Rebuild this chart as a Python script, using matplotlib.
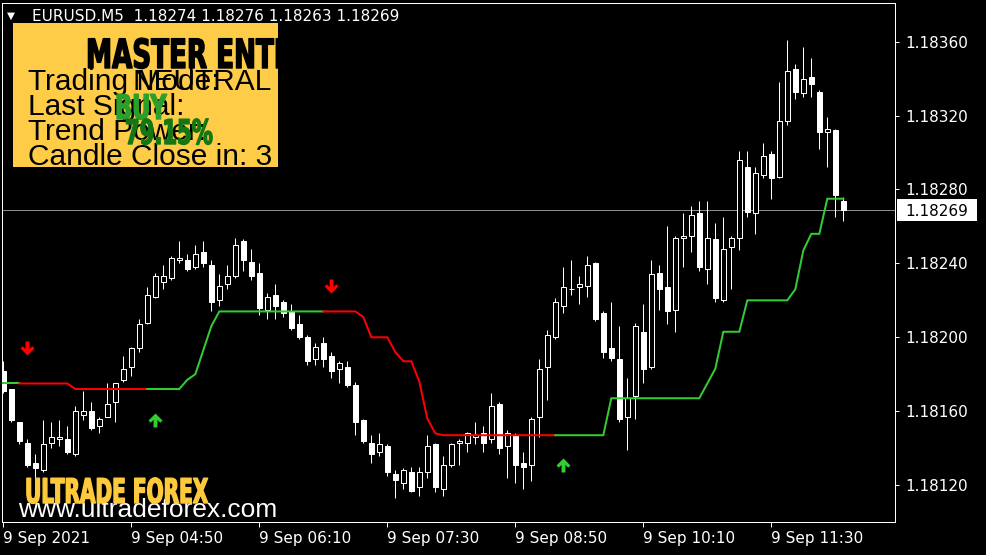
import matplotlib
matplotlib.use("Agg")
import matplotlib.pyplot as plt
import matplotlib.patheffects as pe
from matplotlib.patches import Rectangle
from matplotlib.path import Path
from matplotlib.transforms import Affine2D, blended_transform_factory

# ---------------- data ----------------
symbol = "EURUSD.M5"

opens = [1.18182, 1.18172, 1.18154, 1.18143, 1.18132, 1.18128, 1.18143, 1.18145, 1.18145, 1.18137,
         1.18158, 1.18160, 1.18152, 1.18157, 1.18165, 1.18177, 1.18184, 1.18194, 1.18208, 1.18222,
         1.18230, 1.18232, 1.18242, 1.18242, 1.18238, 1.18246, 1.18239, 1.18220, 1.18229, 1.18233,
         1.18252, 1.18241, 1.18235, 1.18215, 1.18223, 1.18219, 1.18214, 1.18207, 1.18200, 1.18188,
         1.18197, 1.18190, 1.18183, 1.18184, 1.18174, 1.18155, 1.18143, 1.18138, 1.18141, 1.18126,
         1.18121, 1.18127, 1.18119, 1.18127, 1.18142, 1.18118, 1.18131, 1.18143, 1.18143, 1.18146,
         1.18148, 1.18145, 1.18164, 1.18141, 1.18147, 1.18132, 1.18131, 1.18157, 1.18184, 1.18200,
         1.18217, 1.18226, 1.18227, 1.18228, 1.18240, 1.18213, 1.18194, 1.18188, 1.18157, 1.18168,
         1.18203, 1.18184, 1.18235, 1.18227, 1.18215, 1.18254, 1.18255, 1.18267, 1.18237, 1.18253,
         1.18220, 1.18249, 1.18254, 1.18292, 1.18267, 1.18288, 1.18299, 1.18287, 1.18317, 1.18345,
         1.18332, 1.18341, 1.18333, 1.18311, 1.18312, 1.18274]

highs = [1.18187, 1.18172, 1.18154, 1.18145, 1.18137, 1.18155, 1.18154, 1.18155, 1.18152, 1.18163,
         1.18171, 1.18165, 1.18157, 1.18175, 1.18175, 1.18190, 1.18195, 1.18210, 1.18227, 1.18235,
         1.18239, 1.18244, 1.18252, 1.18245, 1.18250, 1.18252, 1.18242, 1.18234, 1.18239, 1.18254,
         1.18253, 1.18248, 1.18240, 1.18224, 1.18229, 1.18220, 1.18218, 1.18212, 1.18201, 1.18197,
         1.18200, 1.18192, 1.18187, 1.18187, 1.18176, 1.18156, 1.18147, 1.18148, 1.18142, 1.18128,
         1.18129, 1.18130, 1.18130, 1.18147, 1.18143, 1.18136, 1.18143, 1.18145, 1.18149, 1.18154,
         1.18152, 1.18170, 1.18165, 1.18150, 1.18148, 1.18138, 1.18157, 1.18188, 1.18204, 1.18221,
         1.18238, 1.18242, 1.18233, 1.18244, 1.18241, 1.18214, 1.18219, 1.18206, 1.18178, 1.18208,
         1.18218, 1.18242, 1.18239, 1.18260, 1.18255, 1.18267, 1.18271, 1.18274, 1.18274, 1.18262,
         1.18265, 1.18255, 1.18301, 1.18301, 1.18292, 1.18305, 1.18301, 1.18338, 1.18361, 1.18348,
         1.18357, 1.18351, 1.18334, 1.18319, 1.18313, 1.18276]

lows = [1.18170, 1.18154, 1.18142, 1.18130, 1.18124, 1.18127, 1.18140, 1.18141, 1.18137, 1.18136,
        1.18155, 1.18150, 1.18148, 1.18157, 1.18154, 1.18176, 1.18179, 1.18192, 1.18207, 1.18221,
        1.18226, 1.18231, 1.18240, 1.18236, 1.18237, 1.18238, 1.18214, 1.18217, 1.18226, 1.18232,
        1.18236, 1.18231, 1.18212, 1.18210, 1.18210, 1.18211, 1.18204, 1.18199, 1.18185, 1.18185,
        1.18184, 1.18178, 1.18175, 1.18173, 1.18147, 1.18143, 1.18132, 1.18136, 1.18125, 1.18113,
        1.18118, 1.18116, 1.18114, 1.18124, 1.18116, 1.18114, 1.18130, 1.18131, 1.18138, 1.18142,
        1.18138, 1.18143, 1.18137, 1.18124, 1.18121, 1.18118, 1.18122, 1.18146, 1.18166, 1.18199,
        1.18213, 1.18223, 1.18218, 1.18222, 1.18209, 1.18189, 1.18187, 1.18154, 1.18139, 1.18156,
        1.18175, 1.18183, 1.18215, 1.18207, 1.18203, 1.18238, 1.18246, 1.18236, 1.18229, 1.18219,
        1.18219, 1.18226, 1.18247, 1.18265, 1.18256, 1.18286, 1.18275, 1.18286, 1.18315, 1.18329,
        1.18330, 1.18330, 1.18302, 1.18292, 1.18265, 1.18263]

closes = [1.18171, 1.18155, 1.18144, 1.18131, 1.18129, 1.18142, 1.18146, 1.18146, 1.18138, 1.18160,
          1.18160, 1.18151, 1.18156, 1.18164, 1.18175, 1.18183, 1.18194, 1.18207, 1.18223, 1.18233,
          1.18233, 1.18243, 1.18243, 1.18237, 1.18245, 1.18240, 1.18219, 1.18228, 1.18233, 1.18250,
          1.18242, 1.18233, 1.18216, 1.18222, 1.18217, 1.18213, 1.18205, 1.18200, 1.18187, 1.18195,
          1.18188, 1.18182, 1.18186, 1.18174, 1.18154, 1.18144, 1.18137, 1.18142, 1.18127, 1.18123,
          1.18128, 1.18117, 1.18127, 1.18141, 1.18119, 1.18131, 1.18142, 1.18144, 1.18148, 1.18147,
          1.18143, 1.18163, 1.18140, 1.18148, 1.18131, 1.18130, 1.18156, 1.18183, 1.18201, 1.18219,
          1.18227, 1.18226, 1.18229, 1.18239, 1.18210, 1.18192, 1.18189, 1.18156, 1.18167, 1.18206,
          1.18183, 1.18234, 1.18226, 1.18214, 1.18254, 1.18255, 1.18266, 1.18238, 1.18254, 1.18221,
          1.18248, 1.18254, 1.18296, 1.18268, 1.18289, 1.18298, 1.18286, 1.18317, 1.18344, 1.18333,
          1.18340, 1.18337, 1.18311, 1.18313, 1.18277, 1.18269]

trend_line = [1.18175, 1.18175, 1.18175, 1.18175, 1.18175, 1.18175, 1.18175, 1.18175, 1.18175, 1.18172,
              1.18172, 1.18172, 1.18172, 1.18172, 1.18172, 1.18172, 1.18172, 1.18172, 1.18172, 1.18172,
              1.18172, 1.18172, 1.18172, 1.18177, 1.18180, 1.18193, 1.18206, 1.18214, 1.18214, 1.18214,
              1.18214, 1.18214, 1.18214, 1.18214, 1.18214, 1.18214, 1.18214, 1.18214, 1.18214, 1.18214,
              1.18214, 1.18214, 1.18214, 1.18214, 1.18214, 1.18211, 1.18200, 1.18200, 1.18200, 1.18192,
              1.18187, 1.18187, 1.18176, 1.18156, 1.18148, 1.18147, 1.18147, 1.18147, 1.18147, 1.18147,
              1.18147, 1.18147, 1.18147, 1.18147, 1.18147, 1.18147, 1.18147, 1.18147, 1.18147, 1.18147,
              1.18147, 1.18147, 1.18147, 1.18147, 1.18147, 1.18147, 1.18167, 1.18167, 1.18167, 1.18167,
              1.18167, 1.18167, 1.18167, 1.18167, 1.18167, 1.18167, 1.18167, 1.18167, 1.18175, 1.18183,
              1.18203, 1.18203, 1.18203, 1.18220, 1.18220, 1.18220, 1.18220, 1.18220, 1.18220, 1.18226,
              1.18247, 1.18256, 1.18256, 1.18275, 1.18275, 1.18275]

trend_switch_bars = [0, 2, 18, 40, 69]
trend_switch_up = [True, False, True, False, True]

sell_bars = [3, 41]
sell_prices = [1.18194, 1.18228]
buy_bars = [19, 70]
buy_prices = [1.18155, 1.18131]

time_label_bars = [0, 16, 32, 48, 64, 80, 96]
time_labels = ["9 Sep 2021", "9 Sep 04:50", "9 Sep 06:10", "9 Sep 07:30",
               "9 Sep 08:50", "9 Sep 10:10", "9 Sep 11:30"]
price_ticks = [1.18120, 1.18160, 1.18200, 1.18240, 1.18280, 1.18320, 1.18360]

panel_title = "MASTER ENTRY"
panel_rows = ["Trading Mode:", "Last Signal:", "Trend Power:", "Candle Close in: 3"]
trading_mode = "NEUTRAL"
last_signal = "BUY"
trend_power = "79.15%"
brand = "ULTRADE FOREX"
website = "www.ultradeforex.com"

# ---------------- styling helpers ----------------
W, H, DPI = 987, 555, 100
PX = 72.0 / DPI
GREEN = "#32CD32"
RED = "#FF0000"
YELLOW = "#FFCC47"


def fx(px):
    return px / W


def fy(py):
    return 1 - py / H


class SqueezeStroke(pe.Stroke):
    """Stroke that also compresses glyphs horizontally (condensed look)."""
    def __init__(self, sx, **kw):
        super().__init__(**kw)
        self.sx = sx

    def draw_path(self, renderer, gc, tpath, affine, rgbFace=None):
        super().draw_path(renderer, gc, tpath, Affine2D().scale(self.sx, 1.0) + affine, rgbFace)


fig = plt.figure(figsize=(W / DPI, H / DPI), dpi=DPI, facecolor="black")
ax = fig.add_axes([fx(2.5), fy(521.5), fx(895) - fx(2.5), fy(2.5) - fy(521.5)])
ax.set_facecolor("black")
n = len(opens)
xs = list(range(n))
ax.set_xlim(-0.1, 111.46)
ax.set_ylim(1.181003, 1.183812)

# candles
ax.vlines(xs, lows, highs, color="white", lw=PX, zorder=2)
bottoms = [min(o, c) for o, c in zip(opens, closes)]
heights = [abs(c - o) for o, c in zip(opens, closes)]
faces = ["white" if c < o else "black" for o, c in zip(opens, closes)]
ax.bar(xs, heights, bottom=bottoms, width=0.56, color=faces, edgecolor="white",
       linewidth=PX, zorder=3)

# trend line
ends = trend_switch_bars[1:] + [n - 1]
for s, e, up in zip(trend_switch_bars, ends, trend_switch_up):
    ax.plot(xs[s:e + 1], trend_line[s:e + 1], color=GREEN if up else RED,
            lw=2 * PX, zorder=4, solid_joinstyle="miter")

# arrows
down_verts = [(-0.14, 0.5), (0.14, 0.5), (0.14, -0.04), (0.34, 0.16), (0.5, 0.0),
              (0.0, -0.5), (-0.5, 0.0), (-0.34, 0.16), (-0.14, -0.04), (-0.14, 0.5)]
down_arrow = Path(down_verts, closed=True)
up_arrow = Path([(x, -y) for x, y in down_verts], closed=True)
ax.plot(sell_bars, sell_prices, ls="none", marker=down_arrow, ms=14 * PX,
        mfc=RED, mec=RED, mew=0, zorder=5)
ax.plot(buy_bars, buy_prices, ls="none", marker=up_arrow, ms=14 * PX,
        mfc=GREEN, mec=GREEN, mew=0, zorder=5)

# current price line + label
last = closes[-1]
ax.axhline(last, color="#8C8C94", lw=PX, zorder=1)
blend = blended_transform_factory(fig.transFigure, ax.transData)
y0, y1 = ax.get_ylim()
ax_h_px = (521.5 - 2.5)
half = 11.2 * (y1 - y0) / ax_h_px
ax.add_patch(Rectangle((fx(897), last - half), fx(80), 2 * half, transform=blend,
                       facecolor="white", edgecolor="none", clip_on=False, zorder=6))
ax.text(fx(905), last, f"{last:.5f}", transform=blend, color="black", fontsize=11,
        family="DejaVu Sans", va="center_baseline", ha="left", clip_on=False, zorder=7)

# axes styling
ax.yaxis.tick_right()
ax.set_yticks(price_ticks)
ax.set_yticklabels([f"{p:.5f}" for p in price_ticks])
ax.set_xticks(time_label_bars)
ax.set_xticklabels(time_labels, ha="left")
ax.tick_params(axis="y", colors="white", length=4 * PX, width=PX, pad=6 * PX,
               labelsize=11, direction="out")
ax.tick_params(axis="x", colors="white", length=5 * PX, width=PX, pad=4 * PX,
               labelsize=11, direction="out")
for sp in ax.spines.values():
    sp.set_color("white")
    sp.set_linewidth(PX)

# header
fig.text(fx(7), fy(19), "\u25BC", color="white", fontsize=7.5, va="baseline", ha="left")
fig.text(fx(32), fy(21),
         f"{symbol}  {opens[-1]:.5f} {highs[-1]:.5f} {lows[-1]:.5f} {closes[-1]:.5f}",
         color="white", fontsize=11, family="DejaVu Sans", va="baseline", ha="left")

# info panel
box = Rectangle((fx(13.3), fy(167)), fx(278) - fx(13.3), fy(22.7) - fy(167),
                transform=fig.transFigure, facecolor=YELLOW, edgecolor="none", zorder=5)
fig.add_artist(box)


def ftext(px, py, s, z=6, clip=True, **kw):
    t = fig.text(fx(px), fy(py), s, va="baseline", ha="left", zorder=z, **kw)
    if clip:
        t.set_clip_path(box)
    return t


def impact(px, py, s, size, color, sx, z=7, clip=True):
    return ftext(px, py, s, z=z, clip=clip, fontsize=size, color=color,
                 family="DejaVu Sans", weight="bold",
                 path_effects=[SqueezeStroke(sx, linewidth=1.0, foreground=color)])


impact(86, 68, panel_title, 29, "black", 0.65)
row_base = [90.5, 115, 140, 165]
for r, yb in zip(panel_rows, row_base):
    ftext(28, yb, r, fontsize=21.5, color="black", family=["Liberation Sans", "DejaVu Sans"])
ftext(133, row_base[0], trading_mode, fontsize=21.5, color="black",
      family=["Liberation Sans", "DejaVu Sans"])
impact(115, 119, last_signal, 24.5, "#2AA02A", 0.66, z=8)
impact(125, 144, trend_power, 24.5, "#137813", 0.62, z=8)

# branding
impact(25, 503, brand, 24.5, "#FFC93C", 0.59, clip=False)
ftext(18, 517, website, clip=False, fontsize=19, color="white",
      family=["Liberation Sans", "DejaVu Sans"])

fig.savefig("out.png", dpi=DPI, facecolor="black")
